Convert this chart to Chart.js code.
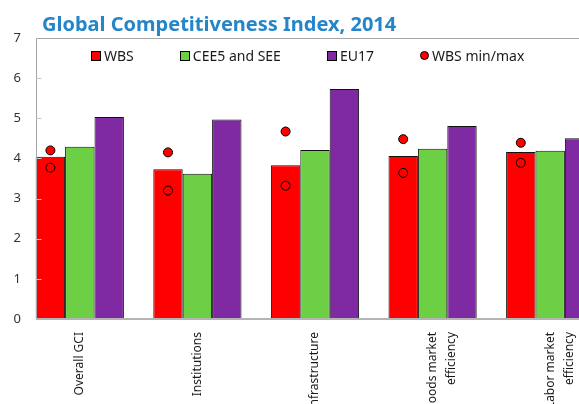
<!DOCTYPE html>
<html>
<head>
<meta charset="utf-8">
<title>Global Competitiveness Index, 2014</title>
<script src="https://cdn.jsdelivr.net/npm/chart.js@4.4.1/dist/chart.umd.min.js"></script>
<style>
    html, body { margin: 0; padding: 0; width: 579px; height: 404px; overflow: hidden; background: #fff; }
    #wrap { position: relative; width: 640px; height: 430px; }
    canvas { position: absolute; left: 0; top: 0; }
    #title { position: absolute; left: 42px; top: 10px; line-height: 20px; font: bold 20px "Noto Sans", sans-serif; color: #2585c8; white-space: nowrap; }
    #legend { position: absolute; left: 91px; top: 48px; height: 15px; display: flex; gap: 46px; font: 14px "Noto Sans", sans-serif; color: #1a1a1a; white-space: nowrap; }
    #legend .item { display: flex; align-items: center; gap: 3px; line-height: 15px; }
    #legend .box { width: 8px; height: 8px; border: 1px solid #000; }
    #legend .dot { width: 7px; height: 7px; border: 1px solid #000; border-radius: 50%; }
</style>
</head>
<body>
<div id="wrap">
    <canvas id="chart" width="640" height="430"></canvas>
    <div id="title">Global Competitiveness Index, 2014</div>
    <div id="legend"></div>
</div>
<script>
// categories and values
categories = ["Overall GCI", "Institutions", "Infrastructure", ["Goods market", "efficiency"], ["Labor market", "efficiency"]];
seriesNames = ["WBS", "CEE5 and SEE", "EU17", "WBS min/max"];
seriesColors = ["#ff0000", "#6ccf44", "#7f2aa2", "#ff0000"];
wbs = [4.04, 3.73, 3.83, 4.06, 4.16];
cee = [4.29, 3.62, 4.21, 4.24, 4.19];
eu17 = [5.03, 4.97, 5.73, 4.81, 4.50];
wbsMax = [4.20, 4.15, 4.67, 4.48, 4.39];
wbsMin = [3.77, 3.20, 3.32, 3.64, 3.89];
yTicks = [0, 1, 2, 3, 4, 5, 6, 7];

const FONT = "'Noto Sans', sans-serif";
const GROUP = 0.75;       // share of a category taken by the three bars

// plot frame with inner tick marks, the way the spreadsheet draws it
const framePlugin = {
    id: "frame",
    afterDatasetsDraw(chart) {
        let ctx = chart.ctx;
        let a = chart.chartArea;
        let x = chart.scales.x;
        let y = chart.scales.y;
        let step = x.getPixelForValue(1) - x.getPixelForValue(0);
        let left = Math.round(x.getPixelForValue(0) - step * GROUP / 2) + 0.5;
        let top = Math.round(a.top) + 0.5;
        ctx.save();
        ctx.strokeStyle = "#a6a6a6";
        ctx.lineWidth = 1;
        ctx.beginPath();
        ctx.moveTo(left, a.bottom);
        ctx.lineTo(left, top);
        ctx.lineTo(a.right, top);
        ctx.stroke();
        ctx.strokeStyle = "#c8c8c8";
        yTicks.forEach(v => {
            if (v == yTicks[0] || v == yTicks[yTicks.length - 1]) return;
            let py = Math.round(y.getPixelForValue(v)) + 0.5;
            ctx.beginPath();
            ctx.moveTo(left, py);
            ctx.lineTo(left + 5, py);
            ctx.stroke();
        });
        ctx.strokeStyle = "#b4b4b4";
        ctx.lineWidth = 2;
        ctx.beginPath();
        ctx.moveTo(left - 0.5, a.bottom);
        ctx.lineTo(a.right, a.bottom);
        ctx.stroke();
        ctx.restore();
    }
};

function barSet(n, data) {
    return {
        label: seriesNames[n],
        data: data.map((v, i) => ({ x: i, y: v })),
        backgroundColor: seriesColors[n],
        borderColor: "#111",
        borderWidth: 1,
        categoryPercentage: GROUP,
        barPercentage: 1,
        order: 1
    };
}

function initLegend() {
    let html = "";
    for (let n = 0; n < seriesNames.length; n++) {
        let cls = n == 3 ? "dot" : "box";
        html += "<div class='item'><span class='" + cls + "' style='background:" + seriesColors[n] + "'></span><span>" + seriesNames[n] + "</span></div>";
    }
    document.getElementById("legend").innerHTML = html;
}

function main() {
    initLegend();

    // min/max markers sit over the WBS bar, a quarter category left of centre
    let points = [];
    wbsMax.forEach((v, i) => points.push({ x: i - 0.25, y: v }));
    wbsMin.forEach((v, i) => points.push({ x: i - 0.25, y: v }));

    let ctx = document.getElementById("chart").getContext("2d");
    new Chart(ctx, {
        type: "bar",
        data: {
            labels: categories,
            datasets: [
                barSet(0, wbs),
                barSet(1, cee),
                barSet(2, eu17),
                {
                    type: "line",
                    label: seriesNames[3],
                    data: points,
                    showLine: false,
                    pointRadius: 4.5,
                    pointHoverRadius: 4.5,
                    pointBorderWidth: 1,
                    pointBackgroundColor: seriesColors[3],
                    pointBorderColor: "#000",
                    order: 0
                }
            ]
        },
        options: {
            responsive: false,
            animation: false,
            layout: { padding: { top: 38, left: 0, right: 31, bottom: 0 } },
            plugins: {
                title: { display: false },
                legend: { display: false },
                tooltip: { enabled: false }
            },
            scales: {
                x: {
                    type: "linear",
                    display: false,
                    offset: false,
                    min: -0.5,
                    max: categories.length - 0.5,
                    ticks: { stepSize: 1, includeBounds: false }
                },
                cat: {
                    type: "category",
                    position: "bottom",
                    offset: true,
                    grid: { display: false, drawTicks: false },
                    border: { display: false },
                    ticks: {
                        autoSkip: false,
                        minRotation: 90,
                        maxRotation: 90,
                        padding: 13,
                        color: "#1a1a1a",
                        font: { family: FONT, size: 12, lineHeight: 1.6 }
                    },
                    afterFit: s => { s.height = 111; }
                },
                y: {
                    min: yTicks[0],
                    max: yTicks[yTicks.length - 1],
                    grid: { display: false, drawTicks: false },
                    border: { display: false },
                    ticks: {
                        stepSize: 1,
                        padding: 0,
                        color: "#333",
                        font: { family: FONT, size: 13 }
                    },
                    afterFit: s => { s.width = 21; }
                }
            }
        },
        plugins: [framePlugin]
    });
}
document.addEventListener("DOMContentLoaded", main);
</script>
</body>
</html>
